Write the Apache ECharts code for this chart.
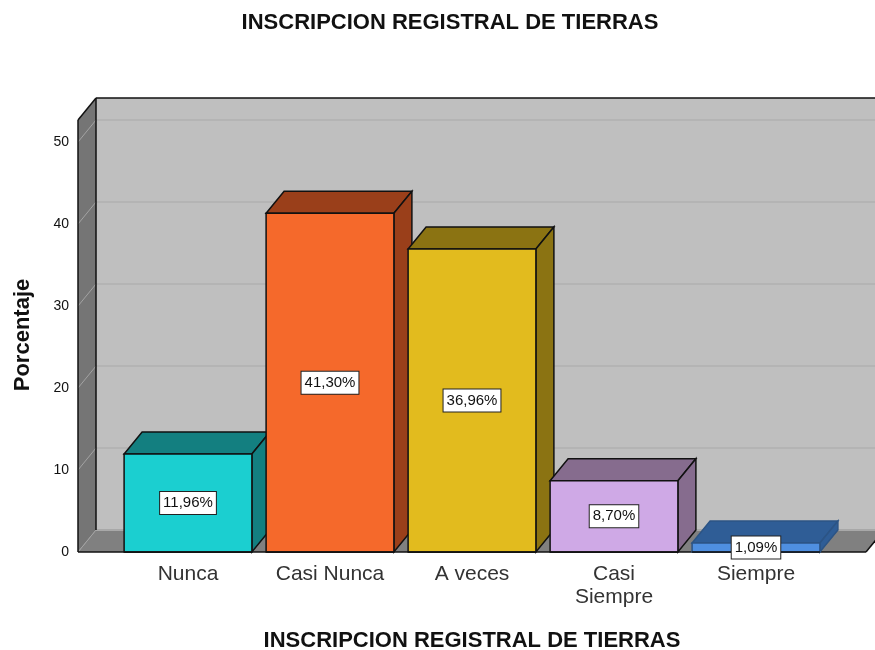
<!DOCTYPE html>
<html>
<head>
<meta charset="utf-8">
<title>INSCRIPCION REGISTRAL DE TIERRAS</title>
<script src="https://cdn.jsdelivr.net/npm/echarts@6/dist/echarts.min.js"></script>
<style>
  html, body { margin: 0; padding: 0; background: #fff; }
  #main { width: 875px; height: 650px; }
</style>
</head>
<body>
<div id="main"></div>
<script>
var titleText = 'INSCRIPCION REGISTRAL DE TIERRAS';
var categories = ['Nunca', 'Casi Nunca', 'A veces', 'Casi\nSiempre', 'Siempre'];
var values = [11.96, 41.30, 36.96, 8.70, 1.09];
var yTicks = [0, 10, 20, 30, 40, 50];

var frontColors = ['#1bcfd0', '#f5692b', '#e2bb1e', '#cfa9e6', '#4f8fe0'];
var sideColors = ['#137f80', '#9a3f1a', '#8b7312', '#866c8e', '#2f5d96'];
var edgeColors = ['#111', '#111', '#111', '#111', '#2c5485'];

// fondo del efecto 3D, en pixeles
var depthX = 18;
var depthY = 22;
var sidePad = 39;
var topPad = 22;

var font = '"Liberation Sans", Arial, sans-serif';

function poly(points, fill, stroke, width) {
  return {
    type: 'polygon',
    shape: { points: points },
    style: { fill: fill, stroke: stroke || 'none', lineWidth: width || 0, lineJoin: 'miter' }
  };
}

function seg(x1, y1, x2, y2, color, width) {
  return {
    type: 'line',
    shape: { x1: x1, y1: y1, x2: x2, y2: y2 },
    style: { stroke: color, lineWidth: width }
  };
}

// paredes y suelo
function renderWalls(params, api) {
  if (params.dataIndex !== 0) return;
  var c = params.coordSys;
  var l = c.x - sidePad;
  var r = c.x + c.width + sidePad;
  var b = c.y + c.height;
  var t = c.y - topPad;
  var items = [
    poly([[l + depthX, t - depthY], [r + depthX, t - depthY], [r + depthX, b - depthY], [l + depthX, b - depthY]], '#bfbfbf'),
    poly([[l, t], [l + depthX, t - depthY], [l + depthX, b - depthY], [l, b]], '#757575'),
    poly([[l, b], [l + depthX, b - depthY], [r + depthX, b - depthY], [r, b]], '#808080')
  ];
  yTicks.forEach(function (v) {
    var y = api.coord([0, v])[1];
    items.push(seg(l, y, l + depthX, y - depthY, '#a3a3a3', 1));
    items.push(seg(l + depthX, y - depthY, r + depthX, y - depthY, v === 0 ? '#a8a8a8' : '#b4b4b4', 2));
  });
  // linea superior del plano
  items.push(seg(l + depthX, t - depthY, r + depthX, t - depthY, '#111', 1.5));
  items.push(seg(l + depthX, t - depthY, l + depthX, b - depthY, '#111', 1.5));
  items.push(seg(l, t, l + depthX, t - depthY, '#111', 1.5));
  items.push(seg(l, t, l, b, '#111', 1.5));
  items.push(seg(l, b, r, b, '#111', 1.5));
  items.push(seg(r, b, r + depthX, b - depthY, '#111', 1.5));
  return { type: 'group', children: items };
}

function renderBar(params, api) {
  var i = params.dataIndex;
  var top = api.coord([api.value(0), api.value(1)]);
  var base = api.coord([api.value(0), 0]);
  var half = api.size([1, 0])[0] * 0.45;
  var x0 = top[0] - half;
  var x1 = top[0] + half;
  var y0 = top[1];
  var y1 = base[1];
  var edge = edgeColors[i];
  return {
    type: 'group',
    children: [
      poly([[x0, y0], [x0 + depthX, y0 - depthY], [x1 + depthX, y0 - depthY], [x1, y0]], sideColors[i], edge, 1.5),
      poly([[x1, y0], [x1 + depthX, y0 - depthY], [x1 + depthX, y1 - depthY], [x1, y1]], sideColors[i], edge, 1.5),
      poly([[x0, y0], [x1, y0], [x1, y1], [x0, y1]], frontColors[i], edge, 1.5),
      seg(x0, y1, x1, y1, '#111', 1.5)
    ]
  };
}

function renderLabel(params, api) {
  var top = api.coord([api.value(0), api.value(1)]);
  var base = api.coord([api.value(0), 0]);
  return {
    type: 'text',
    style: {
      x: top[0],
      y: (top[1] + base[1]) / 2,
      text: api.value(1).toFixed(2).replace('.', ',') + '%',
      font: '15px ' + font,
      fill: '#111',
      align: 'center',
      verticalAlign: 'middle',
      backgroundColor: '#fff',
      borderColor: '#222',
      borderWidth: 1,
      padding: [4, 3, 3, 3]
    }
  };
}

var barData = values.map(function (v, i) { return [i, v]; });

var chart = echarts.init(document.getElementById('main'));
chart.setOption({
  animation: false,
  backgroundColor: '#fff',
  title: {
    text: titleText,
    left: 445,
    top: 7,
    textAlign: 'center',
    textStyle: { fontFamily: font, fontSize: 22, fontWeight: 'bold', color: '#111' }
  },
  graphic: [{
    type: 'text',
    x: 23,
    y: 335,
    rotation: Math.PI / 2,
    style: {
      text: 'Porcentaje',
      font: 'bold 22px ' + font,
      fill: '#111',
      align: 'center',
      verticalAlign: 'middle'
    }
  }],
  grid: { left: 117, right: 48, top: 142, bottom: 98, outerBoundsMode: 'none' },
  xAxis: {
    type: 'category',
    data: categories,
    name: titleText,
    nameLocation: 'middle',
    nameGap: 78,
    nameTextStyle: { fontFamily: font, fontSize: 22, fontWeight: 'bold', color: '#111' },
    axisLine: { show: false },
    axisTick: { show: false },
    axisLabel: {
      interval: 0,
      margin: 11,
      fontFamily: font,
      fontSize: 21,
      lineHeight: 23,
      color: '#333'
    }
  },
  yAxis: {
    type: 'value',
    min: 0,
    max: 50,
    interval: 10,
    offset: sidePad,
    axisLine: { show: false },
    axisTick: { show: false },
    splitLine: { show: false },
    axisLabel: { margin: 9, fontFamily: font, fontSize: 14, color: '#111' }
  },
  series: [
    { type: 'custom', renderItem: renderWalls, data: barData, z: 1, silent: true },
    { type: 'custom', renderItem: renderBar, data: barData, z: 2, silent: true },
    { type: 'custom', renderItem: renderLabel, data: barData, z: 3, silent: true }
  ]
});
</script>
</body>
</html>
